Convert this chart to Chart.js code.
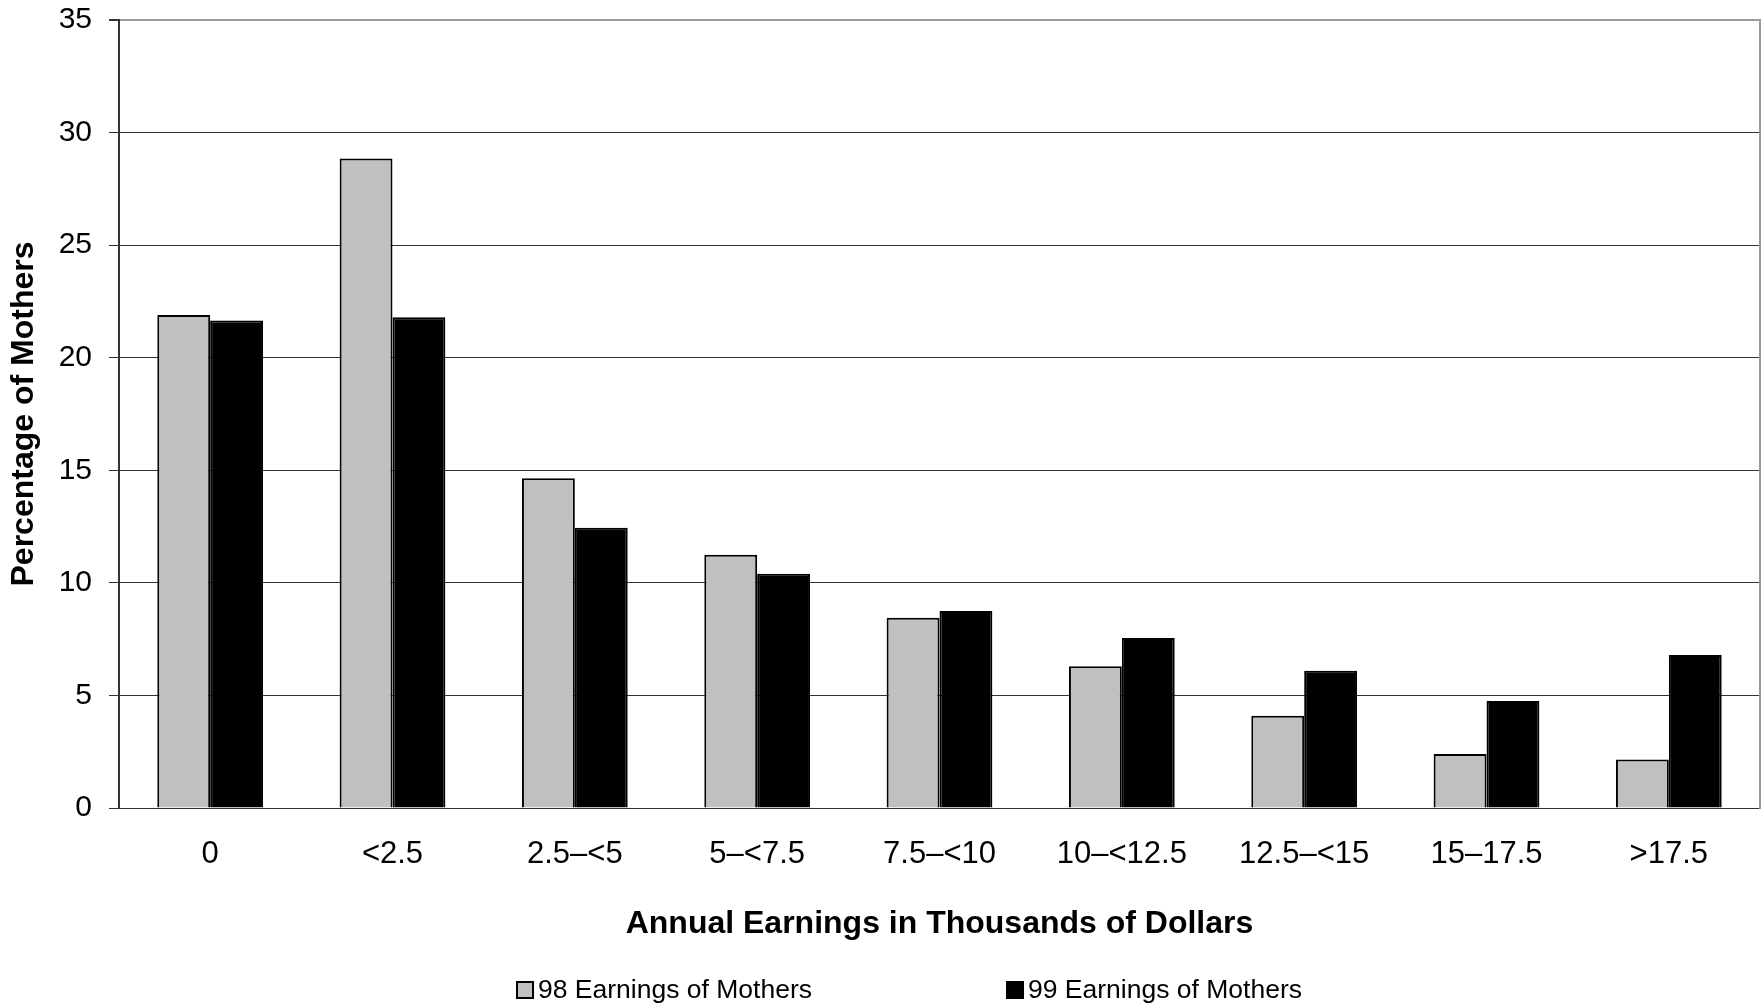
<!DOCTYPE html>
<html>
<head>
<meta charset="utf-8">
<title>Earnings of Mothers</title>
<script src="https://cdn.jsdelivr.net/npm/chart.js@4.4.1/dist/chart.umd.min.js"></script>
<style>
    html, body { margin: 0; padding: 0; background: #fff; }
    #wrap { width: 1762px; height: 1006px; }
</style>
</head>
<body>
<div id="wrap"><canvas id="graficoGanhos" width="1762" height="1006"></canvas></div>
<script>
var _faixas = ["0", "<2.5", "2.5\u2013<5", "5\u2013<7.5", "7.5\u2013<10", "10\u2013<12.5", "12.5\u2013<15", "15\u201317.5", ">17.5"];
var _ganhos98 = [21.9, 28.85, 14.65, 11.25, 8.45, 6.3, 4.1, 2.4, 2.15];
var _ganhos99 = [21.65, 21.8, 12.45, 10.4, 8.75, 7.55, 6.1, 4.75, 6.8];
var _rotulos = ["98 Earnings of Mothers", "99 Earnings of Mothers"];
var _eixoY = [0, 35, 5];

var FONTE = "'Liberation Sans', Arial, Helvetica, sans-serif";

//*******LEGENDA*******
// draws the two legend entries centred under the plot
var legendaPlugin = {
    id: "legendaGanhos",
    afterDraw: function (chart) {
        var ctx = chart.ctx;
        var itens = chart.data.datasets;
        var box = 18, gapTexto = 4, gapItens = 194, y = 990;

        ctx.save();
        ctx.font = "26.5px " + FONTE;
        ctx.textBaseline = "middle";
        ctx.textAlign = "left";

        var larguras = itens.map(function (d) { return box + gapTexto + ctx.measureText(d.label).width; });
        var total = larguras[0] + gapItens + larguras[1];
        var x = 909 - total / 2;

        itens.forEach(function (d, i) {
            ctx.fillStyle = d.backgroundColor;
            ctx.fillRect(x, y - box / 2, box, box);
            ctx.lineWidth = 2;
            ctx.strokeStyle = "#000";
            ctx.strokeRect(x + 1, y - box / 2 + 1, box - 2, box - 2);
            ctx.fillStyle = "#000";
            ctx.fillText(d.label, x + box + gapTexto, y + 1);
            x += larguras[i] + gapItens;
        });
        ctx.restore();
    }
};

//*******GRAFICO*******
function CarregarGrafico() {
    var options = {
        type: "bar",
        data: {
            labels: _faixas,
            datasets: [
                {
                    label: _rotulos[0],
                    data: _ganhos98,
                    backgroundColor: "#c0c0c0",
                    borderColor: "#000",
                    borderWidth: 2,
                    borderSkipped: "bottom"
                },
                {
                    label: _rotulos[1],
                    data: _ganhos99,
                    backgroundColor: "#000",
                    borderColor: "#000",
                    borderWidth: 2,
                    borderSkipped: "bottom"
                }
            ]
        },
        options: {
            responsive: false,
            animation: false,
            categoryPercentage: 0.58,
            barPercentage: 1.0,
            layout: { padding: { top: 20, right: 1, left: 0, bottom: 0 } },
            plugins: {
                legend: { display: false },
                tooltip: { enabled: false }
            },
            scales: {
                x: {
                    grid: { display: false, drawTicks: false },
                    border: { display: false },
                    ticks: { color: "#000", padding: 28, font: { family: FONTE, size: 31 } },
                    title: {
                        display: true,
                        text: "Annual Earnings in Thousands of Dollars",
                        color: "#000",
                        font: { family: FONTE, size: 32, weight: "bold" },
                        padding: { top: 0, bottom: 63 }
                    },
                    afterFit: function (scale) { scale.height = 198; }
                },
                y: {
                    min: _eixoY[0],
                    max: _eixoY[1],
                    ticks: { stepSize: _eixoY[2], color: "#000", padding: 17, font: { family: FONTE, size: 30 } },
                    grid: {
                        color: function (c) { return c.tick && c.tick.value === _eixoY[1] ? "#9a9a9a" : "#333"; },
                        lineWidth: function (c) { return c.tick && c.tick.value === _eixoY[1] ? 2 : 1; },
                        tickColor: "#333",
                        tickLength: 10
                    },
                    border: { color: "#333", width: 2 },
                    title: {
                        display: true,
                        text: "Percentage of Mothers",
                        color: "#000",
                        font: { family: FONTE, size: 32, weight: "bold" },
                        padding: { top: 5, bottom: 0 }
                    },
                    afterFit: function (scale) {
                        scale.width = 119;
                        scale.paddingTop = 0;
                        scale.paddingBottom = 0;
                    }
                },
                borda: {
                    position: "right",
                    grid: { display: false },
                    ticks: { display: false },
                    border: { color: "#9a9a9a", width: 2 },
                    afterFit: function (scale) { scale.width = 1; }
                }
            }
        },
        plugins: [legendaPlugin]
    };

    new Chart(document.getElementById("graficoGanhos"), options);
}

CarregarGrafico();
</script>
</body>
</html>
